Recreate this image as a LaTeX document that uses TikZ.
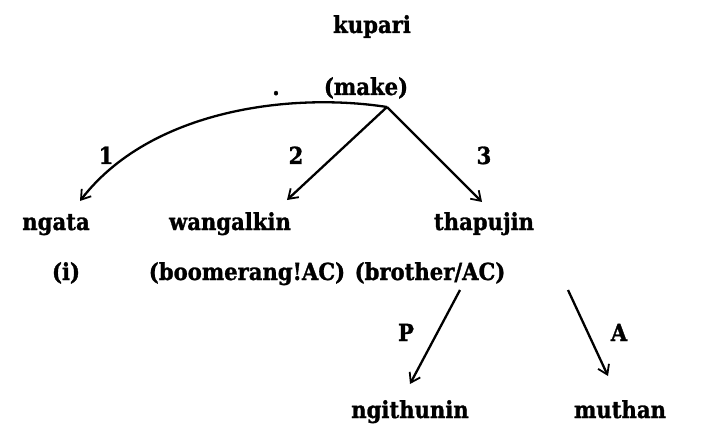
\documentclass[tikz,border=0pt]{standalone}
\usepackage{fontspec}
\newfontfamily\tw[FakeBold=1.2]{DejaVu Serif Condensed Bold}
\usetikzlibrary{arrows.meta}
\begin{document}
\begin{tikzpicture}[x=1pt,y=-1pt,
  lbl/.style={font=\tw\fontsize{23.5}{27}\selectfont, inner sep=1pt, anchor=base},
  conn/.style={line width=2.3pt, -{Straight Barb[length=9pt,width=12pt,line width=1.8pt]}}]
\useasboundingbox (0,0) rectangle (705,444);
\node[lbl] (kupari) at (372,33) {kupari};
\node[lbl] (dot) at (276,95) {.};
\node[lbl] (make) at (366,95) {(make)};
\coordinate (apex) at (387,107);
\node[lbl] (ngata) at (56,230) {ngata};
\node[lbl] (wang) at (230,230) {wangalkin};
\node[lbl] (thap) at (484,230) {thapujin};
\node[lbl] (i) at (66,280) {(i)};
\node[lbl] (boom) at (247,280) {(boomerang!AC)};
\node[lbl] (bro) at (430,280) {(brother/AC)};
\node[lbl] (ngi) at (410,418) {ngithunin};
\node[lbl] (mut) at (620,418) {muthan};
\coordinate (e1) at (80,201);
\coordinate (e2) at (287,200);
\coordinate (e3) at (482,202);
\coordinate (pS) at (460,290);
\coordinate (pE) at (410,384);
\coordinate (aS) at (568,290);
\coordinate (aE) at (608,376);
\draw[conn] (apex) .. controls (290,92) and (150,110) .. (e1);
\draw[conn] (apex) -- (e2);
\draw[conn] (apex) -- (e3);
\draw[conn] (pS) -- (pE);
\draw[conn] (aS) -- (aE);
\node[lbl] (l1) at (106,164) {1};
\node[lbl] (l2) at (296,164) {2};
\node[lbl] (l3) at (484,164) {3};
\node[lbl] (lP) at (406,341) {P};
\node[lbl] (lA) at (619,341) {A};
\end{tikzpicture}
\end{document}
